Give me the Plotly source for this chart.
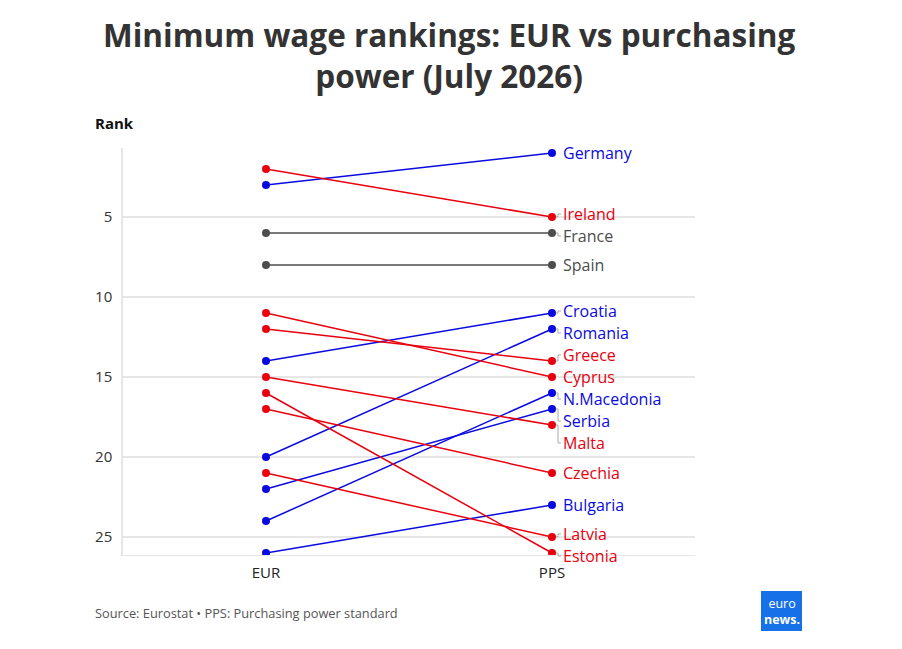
import plotly.graph_objects as go

# ---- data ----
countries = ["Germany", "Ireland", "France", "Spain", "Croatia", "Romania", "Greece",
             "Cyprus", "N.Macedonia", "Serbia", "Malta", "Czechia", "Bulgaria", "Latvia", "Estonia"]
eur_rank = [3, 2, 6, 8, 14, 20, 12, 11, 24, 22, 15, 17, 26, 21, 16]
pps_rank = [1, 5, 6, 8, 11, 12, 14, 15, 16, 17, 18, 21, 23, 25, 26]
columns = ["EUR", "PPS"]
y_ticks = [5, 10, 15, 20, 25]
title_text = "Minimum wage rankings: EUR vs purchasing<br>power (July 2026)"

BLUE = "#0a0ae0"
RED = "#e8000f"
GREY = "#4d4d4d"

# page is offset by the 8px body margin
OFF = 8
W, H = 902, 649
L, R, T, B = 123 - OFF, W - (695 - OFF), 148 - OFF, H - (555 - OFF)
PW, PH = W - L - R, H - T - B
Y_RANGE = [26.125, 0.6875]
X_RANGE = [-0.5, 1.5]


def colour(e, p):
    if p < e:
        return BLUE
    if p > e:
        return RED
    return GREY


def px_x(page_x):
    return (page_x - OFF - L) / PW


def px_y(page_y):
    return (H - B - (page_y - OFF)) / PH


def rank_to_paper(r):
    return (Y_RANGE[0] - r) / (Y_RANGE[0] - Y_RANGE[1])


def xval_to_paper(x):
    return (x - X_RANGE[0]) / (X_RANGE[1] - X_RANGE[0])


def median(v):
    s = sorted(v)
    n = len(s)
    return s[n // 2] if n % 2 else (s[n // 2 - 1] + s[n // 2]) / 2


# label de-overlap: merge overlapping labels into evenly spaced clusters
MIN_GAP = 1.375
order = sorted(range(len(countries)), key=lambda i: pps_rank[i])
clusters = [[i] for i in order]


def start_of(cl):
    return median([pps_rank[i] for i in cl]) - (len(cl) - 1) / 2 * MIN_GAP


merged = True
while merged:
    merged = False
    for j in range(len(clusters) - 1):
        a, b = clusters[j], clusters[j + 1]
        if start_of(b) < start_of(a) + len(a) * MIN_GAP - 1e-9:
            clusters[j:j + 2] = [a + b]
            merged = True
            break
label_pos = {}
for cl in clusters:
    s = start_of(cl)
    for k, i in enumerate(cl):
        label_pos[i] = s + k * MIN_GAP

fig = go.Figure()
PXP = 1.0 / PW  # paper units per pixel

for i, c in enumerate(countries):
    col = colour(eur_rank[i], pps_rank[i])
    fig.add_trace(go.Scatter(
        x=[0, 1], y=[eur_rank[i], pps_rank[i]], mode="lines+markers",
        line=dict(color=col, width=1.5), marker=dict(color=col, size=8),
        hoverinfo="skip", showlegend=False))
    ly = label_pos[i]
    yp0, yp1 = rank_to_paper(pps_rank[i]), rank_to_paper(ly)
    xp = xval_to_paper(1)
    if abs(ly - pps_rank[i]) > 0.05:
        fig.add_shape(type="path", xref="paper", yref="paper",
                      path=(f"M {xp + 4 * PXP},{yp0} L {xp + 6 * PXP},{yp0} "
                            f"L {xp + 6 * PXP},{yp1} L {xp + 9 * PXP},{yp1}"),
                      line=dict(color="#aaaaaa", width=1))
    fig.add_annotation(x=xp, y=yp1, xref="paper", yref="paper", text=c, showarrow=False,
                       xanchor="left", xshift=9, yanchor="middle",
                       font=dict(family="Open Sans", size=16, color=col))

fig.update_layout(
    width=W, height=H,
    margin=dict(l=L, r=R, t=T, b=B),
    plot_bgcolor="white", paper_bgcolor="white",
    font=dict(family="Open Sans", color="#333333"),
    xaxis=dict(range=X_RANGE, tickvals=[0, 1], ticktext=columns,
               showgrid=False, zeroline=False, showline=True, linecolor="#e6e6e6",
               ticks="", ticklabelstandoff=4,
               tickfont=dict(size=15, color="#222222"), fixedrange=True),
    yaxis=dict(range=Y_RANGE, tickvals=y_ticks, ticktext=[str(v) for v in y_ticks],
               showgrid=True, gridcolor="#e6e6e6", gridwidth=1.5, zeroline=False,
               showline=True, linecolor="#e6e6e6", linewidth=1.5,
               ticks="", ticklabelstandoff=6,
               tickfont=dict(size=15, color="#333333"), fixedrange=True),
)

fig.add_annotation(text="<b>" + title_text.replace("<br>", "</b><br><b>") + "</b>",
                   xref="paper", yref="paper",
                   x=px_x(449), y=px_y(55), xanchor="center", yanchor="middle",
                   showarrow=False,
                   font=dict(family="Open Sans", size=31.5, color="#333333"))

fig.add_annotation(text="<b>Rank</b>", xref="paper", yref="paper", x=px_x(93), y=px_y(123),
                   xanchor="left", yanchor="middle", showarrow=False,
                   font=dict(family="Open Sans", size=15, color="#111111"))
fig.add_annotation(text="Source: Eurostat • PPS: Purchasing power standard", xref="paper", yref="paper",
                   x=px_x(93), y=px_y(613), xanchor="left", yanchor="middle", showarrow=False,
                   font=dict(family="Open Sans", size=12.8, color="#555555"))

# euronews logo
fig.add_shape(type="rect", xref="paper", yref="paper",
              x0=px_x(761), x1=px_x(802), y0=px_y(631), y1=px_y(591),
              fillcolor="#1670e8", line=dict(width=0))
fig.add_annotation(text="euro<br><b>news.</b>", xref="paper", yref="paper",
                   x=px_x(781.5), y=px_y(611), xanchor="center", yanchor="middle",
                   showarrow=False,
                   font=dict(family="Open Sans", size=12.5, color="white"))

fig.write_html("out.html")
